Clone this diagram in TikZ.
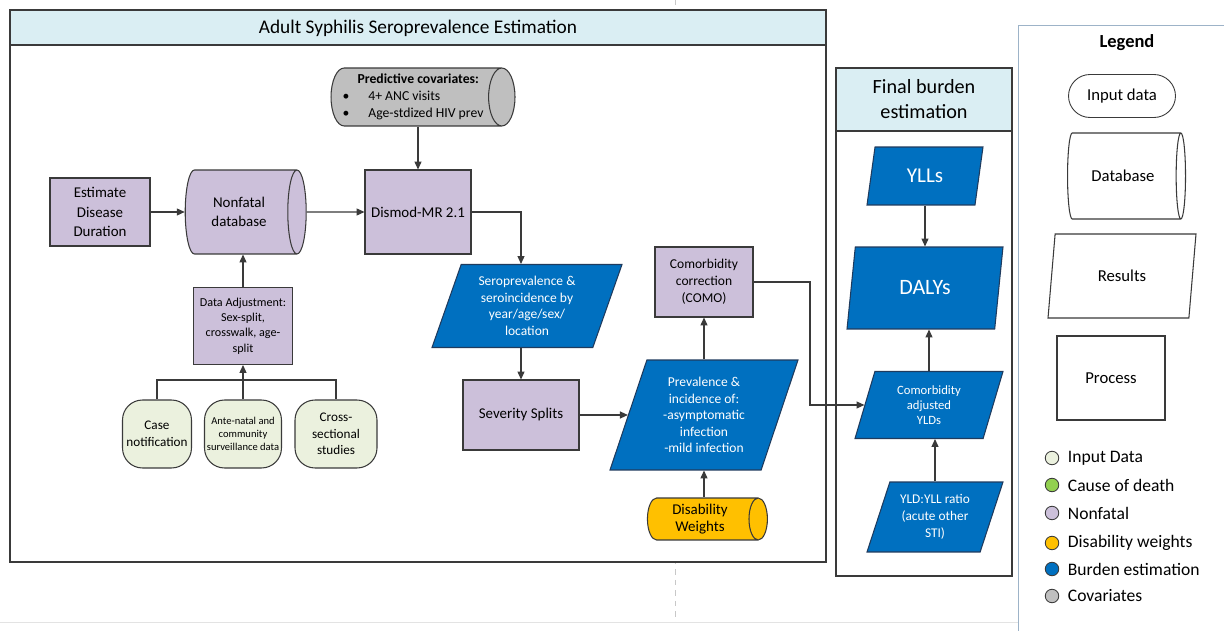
\documentclass[tikz,border=0pt]{standalone}
\usepackage{fontspec}
\setmainfont{Carlito}
\usepackage{tikz}
\usetikzlibrary{arrows.meta,positioning,shapes.geometric,calc}
\definecolor{nfpurple}{HTML}{CCC0DA}
\definecolor{inputgreen}{HTML}{EBF1DE}
\definecolor{codgreen}{HTML}{92D050}
\definecolor{dwamber}{HTML}{FFC000}
\definecolor{burdenblue}{HTML}{0070C0}
\definecolor{blueedge}{HTML}{1F3B5E}
\definecolor{covgray}{HTML}{BFBFBF}
\definecolor{headblue}{HTML}{DAEEF3}
\definecolor{edgegray}{HTML}{3A3A3A}
\definecolor{legendedge}{HTML}{9DB3C8}
\definecolor{pagegray}{HTML}{C8C8C8}
\tikzset{
  panel/.style={draw=edgegray, line width=0.8pt},
  procbox/.style={
    rectangle, draw=edgegray, fill=#1, line width=0.6pt,
    font=\fontsize{8.5}{11}\selectfont, align=center,
    inner sep=2pt
  },
  procbox/.default=nfpurple,
  % cylinder lies on its side: minimum height is its length, minimum width its depth
  dbcyl/.style={
    cylinder, shape border rotate=0, shape aspect=0.5,
    draw=edgegray, line width=0.6pt,
    cylinder uses custom fill, cylinder body fill=#1, cylinder end fill=#1,
    font=\fontsize{8.5}{11}\selectfont, align=center, inner sep=2pt
  },
  dbcyl/.default=nfpurple,
  resultbox/.style={
    trapezium, trapezium left angle=65, trapezium right angle=115,
    trapezium stretches body,
    draw=blueedge, fill=burdenblue, text=white, line width=0.6pt,
    font=\fontsize{7.7}{9.4}\selectfont, align=center, inner sep=1pt
  },
  inputbox/.style={
    rectangle, rounded corners=0.4cm, draw=edgegray, fill=inputgreen,
    line width=0.6pt, minimum height=1.36cm,
    font=\fontsize{7.5}{9.4}\selectfont, align=center, inner sep=1pt
  },
  legdot/.style={circle, draw=edgegray, fill=#1, line width=0.5pt,
    minimum size=0.27cm, inner sep=0pt},
  flow/.style={-{Triangle[length=4.5pt,width=4pt]}, draw=edgegray, line width=0.6pt},
  link/.style={draw=edgegray, line width=0.6pt},
}
\begin{document}
\begin{tikzpicture}[x=0.02cm, y=-0.02cm]
\useasboundingbox (0,0) rectangle (1224,631);

% page guides behind everything
\draw[pagegray, dashed] (675,0) -- (675,622);
\draw[pagegray!50] (0,622) -- (1224,622);

% estimation panel
\draw[panel, fill=white] (10,10) rectangle (826,562);
\draw[panel, fill=headblue] (10,10) rectangle (826,45);
\node[font=\fontsize{11}{13}\selectfont] (esttitle) at (418,28)
  {Adult Syphilis Seroprevalence Estimation};

% final burden panel
\draw[panel, fill=white] (836,68) rectangle (1012,576);
\draw[panel, fill=headblue] (836,68) rectangle (1012,131);
\node[font=\fontsize{11.5}{14}\selectfont, align=center] (fbtitle) at (924,99)
  {Final burden\\estimation};

% legend panel
\draw[legendedge, line width=0.5pt, fill=white] (1018,25) rectangle (1240,650);

% --- seroprevalence modelling ---
\node[procbox, minimum width=2cm, minimum height=1.36cm] (duration) at (100,212)
  {Estimate\\Disease\\Duration};
\node[dbcyl, minimum height=2.42cm, minimum width=1.68cm] (nfdb) at (239,212)
  {Nonfatal\\database};
\node[procbox, minimum width=2.12cm, minimum height=1.68cm] (dismod) at (418,212)
  {Dismod-MR 2.1};
\node[dbcyl=covgray, minimum height=3.68cm, minimum width=1.16cm, align=left,
  font=\fontsize{7.8}{9.6}\selectfont] (covs) at (413,97)
  {\hspace*{0.3cm}\textbf{Predictive covariates:}\\
   \textbullet\hspace{0.38cm}4+ ANC visits\\
   \textbullet\hspace{0.38cm}Age-stdized HIV prev};
\node[procbox, minimum width=1.98cm, minimum height=1.54cm,
  font=\fontsize{6.9}{8.8}\selectfont] (adjust) at (243,326)
  {Data Adjustment:\\Sex-split,\\crosswalk, age-\\split};
\node[inputbox, minimum width=1.38cm] (casenote) at (157,434)
  {Case\\notification};
\node[inputbox, minimum width=1.54cm, font=\fontsize{6}{7.4}\selectfont] (anc) at (243,434)
  {Ante-natal and\\community\\surveillance data};
\node[inputbox, minimum width=1.64cm] (xsect) at (336,434)
  {Cross-\\sectional\\studies};

\node[resultbox, minimum width=3.8cm, minimum height=1.66cm] (seroprev) at (527,306)
  {Seroprevalence \&\\seroincidence by\\year/age/sex/\\location};
\node[procbox, minimum width=2.32cm, minimum height=1.4cm] (sevsplit) at (521,415)
  {Severity Splits};
\node[procbox, minimum width=1.96cm, minimum height=1.4cm,
  font=\fontsize{7.7}{9.6}\selectfont] (como) at (704,282)
  {Comorbidity\\correction\\(COMO)};
\node[resultbox, minimum width=3.76cm, minimum height=2.2cm] (previnc) at (704,415)
  {Prevalence \&\\incidence of:\\-asymptomatic\\infection\\-mild infection};
\node[dbcyl=dwamber, minimum height=2.4cm, minimum width=0.84cm,
  font=\fontsize{8.5}{9.6}\selectfont] (dweights) at (700,519)
  {Disability\\Weights};

% --- final burden ---
\node[resultbox, minimum width=2.32cm, minimum height=1.16cm,
  font=\fontsize{12}{14}\selectfont] (ylls) at (925,176) {YLLs};
\node[resultbox, minimum width=3.12cm, minimum height=1.64cm,
  font=\fontsize{12.5}{15}\selectfont] (dalys) at (925,288) {DALYs};
\node[resultbox, minimum width=2.96cm, minimum height=1.34cm,
  font=\fontsize{7.2}{8.6}\selectfont] (ylds) at (929,405)
  {Comorbidity\\adjusted\\YLDs};
\node[resultbox, minimum width=2.72cm, minimum height=1.4cm,
  font=\fontsize{7.6}{9.8}\selectfont] (ratio) at (935,517)
  {YLD:YLL ratio\\(acute other\\STI)};

% --- connectors ---
\coordinate (inputjoin) at (243,380);
\coordinate (comoturn) at (810,282);
\draw[flow] (duration.east) -- (nfdb.west);
\draw[flow] (nfdb.east) -- (dismod.west);
\draw[flow] (covs.south -| dismod.north) -- (dismod.north);
\draw[flow] (dismod.east) -| (sevsplit.north |- seroprev.north);
\draw[flow] (sevsplit.north |- seroprev.south) -- (sevsplit.north);
\draw[link] (casenote.north) |- (inputjoin) -| (xsect.north);
\draw[flow] (anc.north) -- (adjust.south);
\draw[flow] (adjust.north) -- (adjust.north |- nfdb.south);
\draw[flow] (sevsplit.east) -- (sevsplit.east -| previnc.west);
\draw[flow] (dweights.north -| como.south) -- (como.south |- previnc.south);
\draw[flow] (como.south |- previnc.north) -- (como.south);
\draw[flow] (como.east) -- (comoturn) |- (ylds.west);
\draw[flow] (ylls.south) -- (ylls.south |- dalys.north);
\draw[flow] (ylds.north) -- (ylds.north |- dalys.south);
\draw[flow] (ratio.north) -- (ratio.north |- ylds.south);

% --- legend ---
\node[font=\fontsize{10.5}{12}\selectfont\bfseries] (legtitle) at (1127,43) {Legend};
\node[rectangle, rounded corners=0.43cm, draw=edgegray, line width=0.5pt,
  minimum width=2.14cm, minimum height=0.86cm, font=\fontsize{9.5}{11}\selectfont]
  (leginput) at (1122,96) {Input data};
\node[dbcyl=white, minimum height=2.36cm, minimum width=1.72cm,
  font=\fontsize{9.5}{11}\selectfont] (legdb) at (1123,176) {Database};
\node[resultbox, fill=white, text=black, draw=edgegray, minimum width=2.96cm,
  minimum height=1.68cm, font=\fontsize{9.5}{11}\selectfont] (legres) at (1122,276) {Results};
\node[procbox=white, minimum width=2.16cm, minimum height=1.68cm,
  font=\fontsize{9.5}{11}\selectfont] (legproc) at (1111,378) {Process};

\foreach \y/\col/\lab [count=\i] in {458/inputgreen/Input Data, 485/codgreen/Cause of death,
    513/nfpurple/Nonfatal, 543/dwamber/Disability weights,
    569/burdenblue/Burden estimation, 596/covgray/Covariates} {
  \node[legdot=\col] (dot\i) at (1052,\y) {};
  \node[right=0.05cm of dot\i, font=\fontsize{10}{12}\selectfont] (key\i) {\lab};
}
\end{tikzpicture}
\end{document}
